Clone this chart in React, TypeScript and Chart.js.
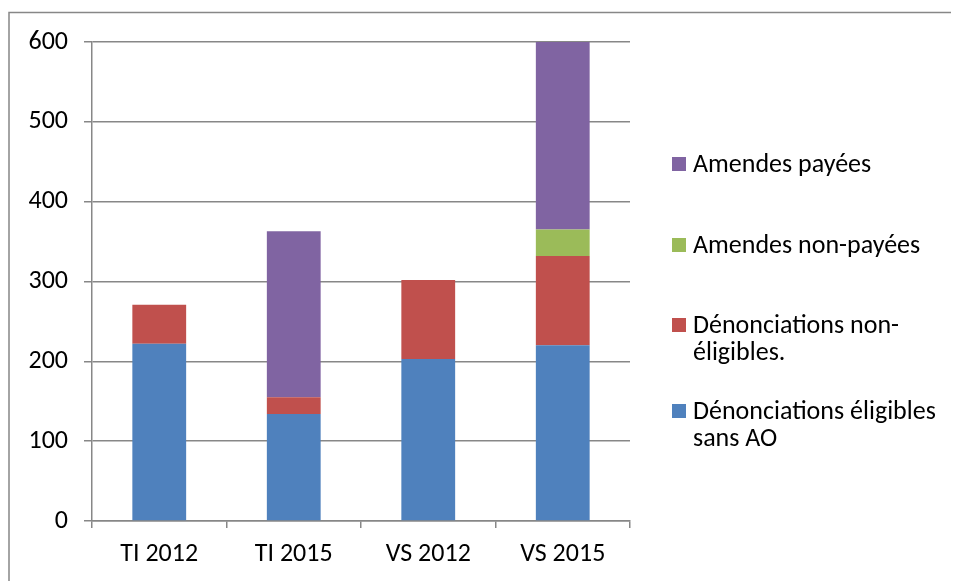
import React, { useEffect, useRef } from "react";
import { Chart, registerables } from "chart.js";

Chart.register(...registerables);

const categories = ["TI 2012", "TI 2015", "VS 2012", "VS 2015"];
const eligiblesSansAO = [222, 134, 203, 220];
const nonEligibles = [49, 21, 99, 112];
const amendesNonPayees = [0, 0, 0, 33];
const amendesPayees = [0, 208, 0, 235];
const yTicks = [0, 100, 200, 300, 400, 500, 600];

const seriesLabels = [
  ["Dénonciations éligibles", "sans AO"],
  ["Dénonciations non-", "éligibles."],
  ["Amendes non-payées"],
  ["Amendes payées"],
];
const seriesColors = ["#4F81BD", "#C0504D", "#9BBB59", "#8064A2"];

const FONT = "Carlito, Lato, sans-serif";
const FONT_SIZE = 26;
const GRID = "#878787";

const frameAndLegend = {
  id: "frameAndLegend",
  beforeDraw(chart: any) {
    const ctx = chart.ctx;
    ctx.save();
    ctx.strokeStyle = GRID;
    ctx.lineWidth = 1.5;
    ctx.beginPath();
    ctx.moveTo(1, chart.height);
    ctx.lineTo(1, 4.5);
    ctx.lineTo(chart.width, 4.5);
    ctx.stroke();
    ctx.restore();
  },
  afterDraw(chart: any) {
    const ctx = chart.ctx;
    const tops = [403, 317, 237, 156];
    const lineH = 27;
    ctx.save();
    ctx.font = `${FONT_SIZE}px ${FONT}`;
    ctx.textBaseline = "middle";
    ctx.textAlign = "left";
    chart.data.datasets.forEach((ds: any, i: number) => {
      const y0 = tops[i];
      ctx.fillStyle = ds.backgroundColor;
      ctx.fillRect(664, y0 - 7, 14, 14);
      ctx.fillStyle = "#000000";
      (ds.legendLines as string[]).forEach((line, k) => {
        ctx.fillText(line, 685, y0 + k * lineH + 1);
      });
    });
    ctx.restore();
  },
};

export default function App() {
  const ref = useRef<HTMLCanvasElement | null>(null);
  useEffect(() => {
    document.body.style.overflow = "hidden";
    const values = [eligiblesSansAO, nonEligibles, amendesNonPayees, amendesPayees];
    const chart = new Chart(ref.current as HTMLCanvasElement, {
      type: "bar",
      data: {
        labels: categories,
        datasets: values.map((v, i) => ({
          label: seriesLabels[i].join(" "),
          legendLines: seriesLabels[i],
          data: v,
          backgroundColor: seriesColors[i],
          borderWidth: 0,
          categoryPercentage: 1,
          barPercentage: 0.4,
        })) as any,
      },
      options: {
        animation: false,
        responsive: false,
        layout: { padding: { top: 34, right: 329, left: 0, bottom: 0 } },
        plugins: { legend: { display: false }, tooltip: { enabled: false } },
        scales: {
          x: {
            stacked: true,
            afterFit: (s: any) => { s.height = 60; },
            grid: { drawOnChartArea: false, drawTicks: true, tickLength: 7, color: GRID, lineWidth: 1.5, offset: true },
            border: { color: GRID, width: 1.5 },
            ticks: { color: "#000", font: { family: FONT, size: FONT_SIZE }, padding: 11 },
          },
          y: {
            stacked: true,
            min: 0,
            max: 600,
            afterFit: (s: any) => { s.width = 84; },
            afterBuildTicks: (s: any) => { s.ticks = yTicks.map((v) => ({ value: v })); },
            grid: { color: GRID, lineWidth: 1.5, tickLength: 8 },
            border: { color: GRID, width: 1.5 },
            ticks: { color: "#000", font: { family: FONT, size: FONT_SIZE }, padding: 16 },
          },
        },
      },
      plugins: [frameAndLegend],
    });
    return () => chart.destroy();
  }, []);
  return <canvas ref={ref} width={951} height={573} style={{ display: "block" }} />;
}
